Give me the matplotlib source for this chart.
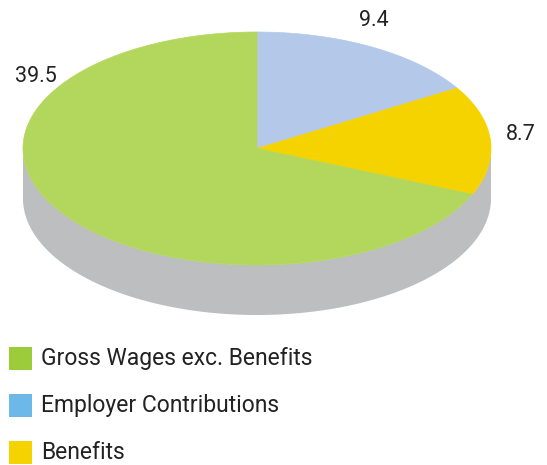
import numpy as np
import matplotlib.pyplot as plt
from matplotlib.patches import Polygon, Rectangle

plt.rcParams['font.family'] = ['Roboto', 'DejaVu Sans']

# data, in drawing order (clockwise from 12 o'clock)
names = ['Employer Contributions', 'Benefits', 'Gross Wages exc. Benefits']
values = [9.4, 8.7, 39.5]
top_colors = ['#b4c9e9', '#f5d300', '#b3d75d']

legend_names = ['Gross Wages exc. Benefits', 'Employer Contributions', 'Benefits']
legend_colors = ['#9ccc3a', '#6cb8e8', '#f5d300']

label_pos = [(374, 20), (521, 134), (36, 76)]

# pie geometry in pixels
cx, cy = 257, 148.5
rx, ry = 234, 116.5
depth = 50
side_color = '#bdbec0'

W, H = 547, 465
fig = plt.figure(figsize=(W / 100, H / 100), dpi=100)
ax = fig.add_axes([0, 0, 1, 1])
ax.set_xlim(0, W)
ax.set_ylim(H, 0)
ax.axis('off')


def ell(t, yoff=0):
    return np.column_stack([cx + rx * np.cos(t), cy + yoff - ry * np.sin(t)])


# side (front half only)
t = np.linspace(np.pi, 2 * np.pi, 200)
side = np.vstack([ell(t), ell(t[::-1], depth)])
ax.add_patch(Polygon(side, closed=True, fc=side_color, ec='none'))

# top wedges
frac = np.array(values) / sum(values)
start = np.concatenate([[0], np.cumsum(frac)[:-1]])
for s, f, c in zip(start, frac, top_colors):
    a0 = np.pi / 2 - 2 * np.pi * s
    a1 = np.pi / 2 - 2 * np.pi * (s + f)
    tt = np.linspace(a0, a1, 300)
    pts = np.vstack([[cx, cy], ell(tt)])
    ax.add_patch(Polygon(pts, closed=True, fc=c, ec=c, lw=0.5))

for v, (x, y) in zip(values, label_pos):
    ax.text(x, y, f'{v:.1f}', ha='center', va='center', fontsize=15.5,
            color='#222222')

# legend
for i, (n, c) in enumerate(zip(legend_names, legend_colors)):
    yc = 358 + 47 * i
    ax.add_patch(Rectangle((9, yc - 11.5), 23, 23, fc=c, ec='none'))
    ax.text(41, yc, n, ha='left', va='center', fontsize=16.5, color='#222222')

fig.savefig('out.png', dpi=100)
